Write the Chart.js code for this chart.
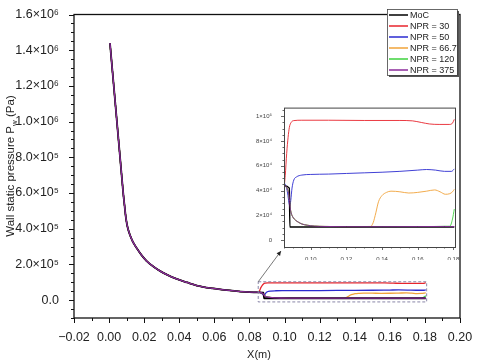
<!DOCTYPE html>
<html><head><meta charset="utf-8">
<script src="https://cdn.jsdelivr.net/npm/chart.js@4.4.1/dist/chart.umd.min.js"></script>
<style>
html,body{margin:0;padding:0;background:#fff;}
#wrap{position:relative;width:480px;height:364px;overflow:hidden;}
#main{position:absolute;left:0;top:0;}
#inset{position:absolute;left:250px;top:100px;}
</style></head><body>
<div id="wrap"><canvas id="main" width="480" height="364"></canvas><canvas id="inset" width="222" height="160"></canvas></div>
<script>
// ---------- data ----------
const seriesNames = ['MoC', 'NPR = 30', 'NPR = 50', 'NPR = 66.7', 'NPR = 120', 'NPR = 375'];
const seriesColors = ['#000000', '#e8242c', '#2b2bd0', '#f0a33a', '#3ed23e', '#8b2b9b'];

// shared nozzle part (all series coincide)
const commonX = [0.0005, 0.002, 0.0035, 0.005, 0.0065, 0.008, 0.0088, 0.0096, 0.0105, 0.0119, 0.0135, 0.0157, 0.0185, 0.0214, 0.025, 0.0289, 0.0335, 0.0385, 0.0445, 0.050, 0.059, 0.067, 0.075, 0.080];
const commonP = [1440000, 1273000, 1106000, 939000, 772000, 605000, 530000, 460000, 410000, 365000, 328000, 292000, 252000, 219000, 190000, 164000, 140000, 119000, 99000, 82000, 66000, 56000, 48000, 45000];

// downstream parts
const mocX = [0.085, 0.0880, 0.0883, 0.1805];
const mocP = [44000, 42000, 10500, 10500];

const npr30X = [0.085, 0.0857, 0.0865, 0.0873, 0.088, 0.089, 0.0905, 0.095, 0.110, 0.130, 0.150, 0.157, 0.162, 0.1665, 0.172, 0.178, 0.1795, 0.1805];
const npr30P = [44000, 52000, 70000, 83000, 91000, 95000, 96500, 96800, 96800, 96600, 96600, 96300, 95000, 93800, 93400, 93400, 94500, 97500];

const npr50X = [0.085, 0.086, 0.087, 0.0878, 0.0883, 0.0888, 0.0895, 0.0905, 0.092, 0.095, 0.100, 0.110, 0.120, 0.130, 0.140, 0.150, 0.160, 0.165, 0.170, 0.175, 0.179, 0.1805];
const npr50P = [46000, 44000, 38000, 30000, 27500, 32000, 42000, 48500, 51000, 52500, 53000, 53300, 53800, 54300, 54800, 55500, 56500, 57000, 56500, 55500, 55500, 57500];

const npr667X = [0.085, 0.086, 0.087, 0.0878, 0.0885, 0.089, 0.090, 0.0915, 0.093, 0.095, 0.098, 0.102, 0.108, 0.120, 0.1335, 0.135, 0.1365, 0.138, 0.140, 0.1425, 0.145, 0.150, 0.155, 0.160, 0.165, 0.1695, 0.1725, 0.1755, 0.178, 0.1795, 0.1805];
const npr667P = [44500, 43500, 41000, 36000, 26000, 22000, 18500, 16000, 14500, 13000, 12000, 11300, 11000, 10800, 11000, 14000, 22000, 31000, 36000, 38500, 39500, 39000, 38000, 38500, 39500, 40500, 39000, 37000, 37500, 39000, 41000];

const npr120X = [0.085, 0.086, 0.087, 0.0878, 0.0885, 0.089, 0.090, 0.0915, 0.093, 0.095, 0.098, 0.102, 0.108, 0.120, 0.140, 0.160, 0.178, 0.1795, 0.1805];
const npr120P = [44500, 43500, 41000, 36000, 26000, 22000, 18500, 16000, 14500, 13000, 12000, 11300, 11000, 10800, 10800, 10900, 11200, 17000, 25000];

const npr375X = [0.085, 0.086, 0.087, 0.0878, 0.0885, 0.089, 0.090, 0.0915, 0.093, 0.095, 0.098, 0.102, 0.108, 0.120, 0.140, 0.160, 0.175, 0.1805];
const npr375P = [44500, 43500, 41000, 36000, 26000, 22000, 18500, 16000, 14500, 13000, 12000, 11300, 11000, 10800, 10800, 10900, 11000, 10800];

const tailsX = [mocX, npr30X, npr50X, npr667X, npr120X, npr375X];
const tailsP = [mocP, npr30P, npr50P, npr667P, npr120P, npr375P];

// axis ticks
const mainXTicks = [-0.02, 0.00, 0.02, 0.04, 0.06, 0.08, 0.10, 0.12, 0.14, 0.16, 0.18, 0.20];
const mainYTicks = [0, 200000, 400000, 600000, 800000, 1000000, 1200000, 1400000, 1600000];
const insetXTicks = [0.10, 0.12, 0.14, 0.16, 0.18];
const insetYTicks = [0, 20000, 40000, 60000, 80000, 100000];

// ---------- helpers ----------
const SUP = {'0':'⁰','1':'¹','2':'²','3':'³','4':'⁴','5':'⁵','6':'⁶','7':'⁷','8':'⁸','9':'⁹'};
function sciLabel(v, digits) {
  if (Math.abs(v) < 1e-9) return digits ? '0.0' : '0';
  const e = Math.floor(Math.log10(Math.abs(v)) + 1e-9);
  const m = v / Math.pow(10, e);
  return (digits ? m.toFixed(digits) : String(Math.round(m))) + '×10' + String(e).split('').map(c => SUP[c]).join('');
}
function xLabel(v) { return v < -1e-9 ? '−' + Math.abs(v).toFixed(2) : Math.abs(v).toFixed(2); }

function buildSeries(i) {
  const xs = commonX.concat(tailsX[i]);
  const ps = commonP.concat(tailsP[i]);
  return xs.map((x, k) => ({x: x, y: ps[k]}));
}
function makeDatasets(width) {
  // draw order: purple on top, then MoC, green, orange, blue, red
  const orderMap = [1, 5, 4, 3, 2, 0];
  return seriesNames.map((n, i) => ({
    label: n,
    data: buildSeries(i),
    borderColor: seriesColors[i],
    backgroundColor: seriesColors[i],
    borderWidth: i === 0 ? width + 0.5 : width,
    pointRadius: 0,
    fill: false,
    cubicInterpolationMode: 'monotone',
    order: orderMap[i]
  }));
}

const TXT = '#222';
const FONT = '"Liberation Sans", Arial, sans-serif';

// ---------- main chart ----------
const mainDecor = {
  id: 'mainDecor',
  afterDraw(chart) {
    const ctx = chart.ctx, a = chart.chartArea;
    const xs = chart.scales.x, ys = chart.scales.y;
    ctx.save();
    // frame
    ctx.strokeStyle = '#111'; ctx.lineWidth = 1.3;
    ctx.strokeRect(a.left, a.top, a.right - a.left, a.bottom - a.top);
    // ticks
    ctx.lineWidth = 1;
    ctx.beginPath();
    for (let v = -100000; v <= 1600000 + 1; v += 50000) {
      const y = Math.round(ys.getPixelForValue(v)) + 0.5;
      const major = (Math.round(v / 50000) % 4) === 0;
      ctx.moveTo(a.left, y); ctx.lineTo(a.left - (major ? 5 : 3), y);
    }
    for (let k = -2; k <= 20; k++) {
      const x = Math.round(xs.getPixelForValue(k / 100)) + 0.5;
      const major = (k % 2) === 0;
      ctx.moveTo(x, a.bottom); ctx.lineTo(x, a.bottom + (major ? 5 : 3));
    }
    ctx.stroke();
    // dashed zoom box
    const bx0 = xs.getPixelForValue(0.085), bx1 = xs.getPixelForValue(0.181);
    const by0 = ys.getPixelForValue(103000), by1 = ys.getPixelForValue(-10000);
    ctx.setLineDash([3, 2]);
    ctx.strokeStyle = '#8a86a8'; ctx.lineWidth = 1;
    ctx.strokeRect(bx0, by0, bx1 - bx0, by1 - by0);
    ctx.setLineDash([]);
    // arrow to inset
    const ex = 281, ey = 251;
    ctx.strokeStyle = '#555'; ctx.lineWidth = 0.8;
    ctx.beginPath(); ctx.moveTo(bx0, by0); ctx.lineTo(ex, ey); ctx.stroke();
    const ang = Math.atan2(ey - by0, ex - bx0);
    ctx.fillStyle = '#222';
    ctx.beginPath();
    ctx.moveTo(ex, ey);
    ctx.lineTo(ex - 5 * Math.cos(ang - 0.45), ey - 5 * Math.sin(ang - 0.45));
    ctx.lineTo(ex - 5 * Math.cos(ang + 0.45), ey - 5 * Math.sin(ang + 0.45));
    ctx.closePath(); ctx.fill();
    // axis titles
    ctx.fillStyle = TXT;
    ctx.font = '11px ' + FONT;
    ctx.textAlign = 'center'; ctx.textBaseline = 'middle';
    ctx.fillText('X(m)', 259, 355);
    // y title with subscript
    ctx.save();
    ctx.translate(10, 166);
    ctx.rotate(-Math.PI / 2);
    const p1 = 'Wall static pressure P', p2 = 'w', p3 = ' (Pa)';
    ctx.font = '11.5px ' + FONT;
    const w1 = ctx.measureText(p1).width, w3 = ctx.measureText(p3).width;
    ctx.font = '8px ' + FONT;
    const w2 = ctx.measureText(p2).width;
    let x0 = -(w1 + w2 + w3) / 2;
    ctx.textAlign = 'left'; ctx.textBaseline = 'alphabetic';
    ctx.font = '11.5px ' + FONT; ctx.fillText(p1, x0, 4);
    ctx.font = '8px ' + FONT; ctx.fillText(p2, x0 + w1, 6.5);
    ctx.font = '11.5px ' + FONT; ctx.fillText(p3, x0 + w1 + w2, 4);
    ctx.restore();
    // legend
    const lx = 387, ly = 9, lw = 70, lh = 66;
    ctx.fillStyle = '#555';
    ctx.fillRect(lx + 2, ly + 2, lw, lh);
    ctx.fillStyle = '#fff';
    ctx.fillRect(lx, ly, lw, lh);
    ctx.strokeStyle = '#444'; ctx.lineWidth = 0.8;
    ctx.strokeRect(lx + 0.5, ly + 0.5, lw, lh);
    ctx.font = '9px ' + FONT;
    ctx.textAlign = 'left'; ctx.textBaseline = 'middle';
    seriesNames.forEach((n, i) => {
      const y = 15 + i * 11;
      ctx.strokeStyle = seriesColors[i]; ctx.lineWidth = 1.5;
      ctx.beginPath(); ctx.moveTo(389, y); ctx.lineTo(408, y); ctx.stroke();
      ctx.fillStyle = TXT;
      ctx.fillText(n, 410, y + 0.5);
    });
    ctx.restore();
  }
};

new Chart(document.getElementById('main'), {
  type: 'line',
  data: { datasets: makeDatasets(1.3) },
  options: {
    responsive: false, animation: false, devicePixelRatio: 1,
    layout: { padding: { top: 8, right: 20, left: 0, bottom: 0 } },
    plugins: { legend: { display: false }, tooltip: { enabled: false } },
    scales: {
      x: {
        type: 'linear', min: -0.02, max: 0.20,
        grid: { display: false }, border: { display: false },
        afterBuildTicks: s => { s.ticks = mainXTicks.map(v => ({value: v})); },
        afterFit: s => { s.height = 46; },
        ticks: { callback: v => xLabel(v), color: TXT, font: { size: 12.5, family: FONT }, padding: 4, maxRotation: 0, autoSkip: false }
      },
      y: {
        type: 'linear', min: -100000, max: 1600000,
        grid: { display: false }, border: { display: false },
        afterBuildTicks: s => { s.ticks = mainYTicks.map(v => ({value: v})); },
        afterFit: s => { s.width = 74; },
        ticks: { callback: v => sciLabel(v, 1), color: TXT, font: { size: 12.5, family: FONT }, padding: 7, autoSkip: false }
      }
    }
  },
  plugins: [mainDecor]
});

// ---------- inset chart ----------
const insetDecor = {
  id: 'insetDecor',
  afterDraw(chart) {
    const ctx = chart.ctx, a = chart.chartArea;
    const xs = chart.scales.x, ys = chart.scales.y;
    ctx.save();
    ctx.strokeStyle = '#444'; ctx.lineWidth = 1;
    ctx.strokeRect(a.left + 0.5, a.top + 0.5, a.right - a.left, a.bottom - a.top);
    ctx.lineWidth = 0.8;
    ctx.beginPath();
    for (let v = 0; v <= 105000; v += 5000) {
      const y = Math.round(ys.getPixelForValue(v)) + 0.5;
      const major = (Math.round(v / 5000) % 4) === 0;
      ctx.moveTo(a.left, y); ctx.lineTo(a.left - (major ? 3 : 1.5), y);
    }
    for (let k = 17; k <= 36; k++) {
      const x = Math.round(xs.getPixelForValue(k / 200)) + 0.5;
      const major = (k % 4) === 0;
      ctx.moveTo(x, a.bottom); ctx.lineTo(x, a.bottom + (major ? 3 : 1.5));
    }
    ctx.stroke();
    ctx.restore();
  }
};

new Chart(document.getElementById('inset'), {
  type: 'line',
  data: { datasets: makeDatasets(0.9) },
  options: {
    responsive: false, animation: false, devicePixelRatio: 1,
    layout: { padding: { top: 7, right: 17, left: 0, bottom: 0 } },
    plugins: { legend: { display: false }, tooltip: { enabled: false } },
    scales: {
      x: {
        type: 'linear', min: 0.085, max: 0.1809,
        grid: { display: false }, border: { display: false },
        afterBuildTicks: s => { s.ticks = insetXTicks.map(v => ({value: v})); },
        afterFit: s => { s.height = 13; },
        ticks: { callback: v => v.toFixed(2), color: '#444', font: { size: 6, family: FONT }, padding: 1, maxRotation: 0, autoSkip: false }
      },
      y: {
        type: 'linear', min: -5600, max: 107000,
        grid: { display: false }, border: { display: false },
        afterBuildTicks: s => { s.ticks = insetYTicks.map(v => ({value: v})); },
        afterFit: s => { s.width = 34; },
        ticks: { callback: v => sciLabel(v, 0), color: '#444', font: { size: 6, family: FONT }, padding: 4, autoSkip: false }
      }
    }
  },
  plugins: [insetDecor]
});
</script>
</body></html>
